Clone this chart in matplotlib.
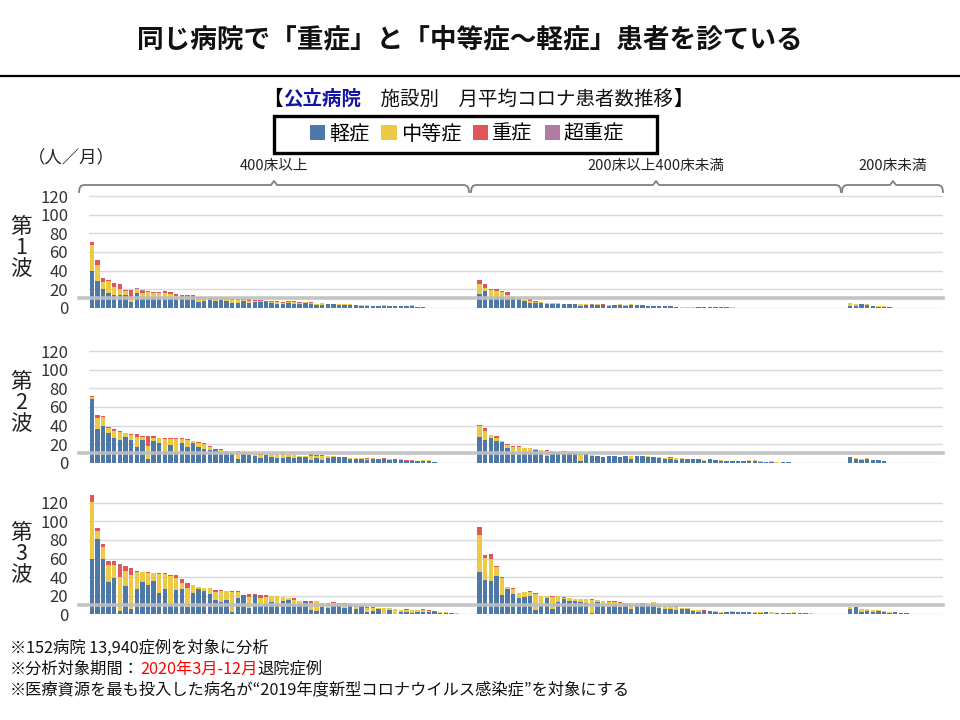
import numpy as np
import matplotlib
matplotlib.use("Agg")
import matplotlib.pyplot as plt
from matplotlib.patches import Patch, Rectangle
from matplotlib.lines import Line2D

plt.rcParams['font.family'] = ['Noto Sans CJK JP', 'DejaVu Sans']

# ---------------- data ----------------
SERIES = ['軽症', '中等症', '重症', '超重症']
COLORS = ['#4E79A7', '#EDC948', '#E15759', '#B07AA1']
GROUPS = ['400床以上', '200床以上400床未満', '200床未満']
WAVES = ['第\n1\n波', '第\n2\n波', '第\n3\n波']
YTICKS = [0, 20, 40, 60, 80, 100, 120]
REF_LEVEL = 10

# wave 1
w1_g1_mild = [40,29,20,16,14,14,14,6,16,9, 11,12,12,9,10,9,10,9,11,6, 7,8,7,8,7,5,5,7,5,6,
              6,6,5,4,4,5,4,4,5,4, 3,3,4,4,3,3,3,3,2,2, 2,2,2,2,2,2,2,2,1,1]
w1_g1_mod = [27,17,8,13,8,6,4,5,4,7, 6,4,4,7,5,4,2,3,1,3, 2,1,2,1,2,3,3,1,2,1,
             1,0,1,2,1,1,2,1,1,1, 1,2,0,0,0.5,0.5,0.5,0,1,1, 0,0,0.5,0,0,0,0,0.5,0,0]
w1_g1_sev = [4,5,4,1,5,5,1,8,0,2, 1,1,1,2,2,2,2,2,2,3, 2,1,1,1,1,1,1,1,2,1,
             1,1,1,1,1,1,1,1,0,1, 0,0,0,0,0,0,0,0,0,0, 0,0,0,0,0,0,0,0,0,0]
w1_g1_crit = [0,0,0,0,0,0,0,0,1,1, 0,0,0,0,0,0,0,0,0,0, 0,0,0,0,0,0,0,0,0,0,
              0,0,0,0,0,0,0,0,0,0, 0,0,0,0,0,0,0,0,0,0, 0,0,0,0,0,0,0,0,0,0]
w1_g2_mild = [15,18,12,11,12,9,11,9,7,5, 5,5,4,4,4,4,4,4,2,3, 3,3,3,2,3,3,2,3,3,3,
              2,2,2,2,2,1,0,0,0,1, 1,1,1,1,1,0]
w1_g2_mod = [11,3,7,7,5,5,1,1,1,2, 1,1,1,1,1,0,0.5,0,2,1, 0,1,0,1,0,0.5,1,0.5,0,0,
             0,0,0,0,0,0,1,1,1,0, 0,0,0,0,0,1]
w1_g2_sev = [4,4,1,2,1,3,0,0,0,2, 1,0,0,0,0,0,0,0,0,0, 0,0,1,0,0,0,0,0,0,0,
             0,0,0,0,0,0,0,0,0,0, 0,0,0,0,0,0]
w1_g2_crit = [0,0,0,0,0,0,0,0,0,0, 0,0,0,0,0,0,0,0,0,0, 0.7,0,0,0,0,0,0,0,0,0,
              0,0,0,0,0,0,0,0,0,0, 0,0,0,0,0,0]
w1_g3_mild = [2,2,4,3,2,1,1,1]
w1_g3_mod = [3,2,0,1,0,1,1,0]
w1_g3_sev = [0,0,0,0,0,0,0,0]
w1_g3_crit = [0,0,0,0,0,0,0,0]

# wave 2
w2_g1_mild = [68,36,40,32,27,24,28,24,17,24, 4,23,21,12,19,11,21,17,21,17, 15,14,15,12,11,10,4,9,8,7,
              5,8,6,5,5,6,5,6,6,3, 5,3,5,6,6,6,4,4,4,3, 4,4,4,3,4,3,2,2,1.5,2, 1.5,1]
w2_g1_mod = [3,12,9,5,7,9,4,6,11,4, 14,4,6,14,7,15,5,7,2,4, 5,3,0,2,2,2,8,2,4,2,
             3,1,4,4,4,3,3,1,1,4, 2,4,2,1,0,0,1,1,1,1, 1,0,0,1,0.5,1,0,0,0,1, 1,0]
w2_g1_sev = [1,3,1,1,2,1,0,1,3,1, 11,2,0,1,1,1,1,2,0,1, 1,1,0,1,0,0,1,0,0,0,
             1,0,0,0,1,0,0,0,0,2, 1,1,0,0,0,0,0,0,0,1, 0,0,1,0,0,0,1,0,0,0, 0,0]
w2_g1_crit = [0,0,0,0,0,0,0,0,0,0, 0,0,0,0,0,0,0,0,0,0, 0,0,0,0,0,0,0,0,0,0,
              0,0,0,0,0,0,0,0,0,0, 0,0,0,0,0,0,0,0,0,0, 0,0,0,0,0,0,0,0.8,0,0, 0,0]
w2_g2_mild = [28,24,27,23,22,16,12,8,12,12, 14,11,7,12,11,9,10,10,2,9, 7,7,6,7,7,6,7,4,7,7,
              6,6,5,4,4,3,4,4,4,4, 2,4,3,2,2,2,2,2,2,2, 1,1,1,0,1,1]
w2_g2_mod = [11,10,3,4,1,3,5,9,4,4, 1,3,6,1,1,3,1,0,7,0, 1,0,0,0,0,0,0,3,0,0,
             1,0,1,1,1,2,1,0.5,0.5,0, 1,0.5,0,0.5,0,0,0,0,1,0.5, 1,0,1,1,0,0]
w2_g2_sev = [1,3,0,2,0,1,1,1,0,0, 0,0,1,0,0,1,0,0,0,0, 0,0,0,0,0,0,0,0,0,0,
             0,0,0,0,1,0,0,0,0,0, 0,0,0,0,0,0,0,0,0,0, 0,0,0,0,0,0]
w2_g2_crit = [0,0,0,0,0,0,0,0,0,0, 0,0,0,0,0,0,0,0,0,0, 0,0,0,0,0,0,0,0,0,0,
              0,0,0,0,0,0,0,0,0,0, 0,0,0,0,0,0,0,0,0,0, 0,0,0,0,0,0]
w2_g3_mild = [6,4,3,4,3,3,2]
w2_g3_mod = [0,1,1,1,0,0,0]
w2_g3_sev = [0,0,0,0,0,0,0]
w2_g3_crit = [0,0,0,0,0,0,0]

# wave 3
w3_g1_mild = [60,81,60,35,39,4,30,6,27,35, 31,36,23,27,11,26,27,8,23,27, 25,22,15,13,15,3,18,21,7,21,
              9,11,13,11,14,15,11,11,14,5, 4,8,7,10,10,7,11,6,9,3, 4,6,0,5,0,3,2,1,3,3, 2,2,1,1,1,0]
w3_g1_mod = [61,9,12,18,14,36,17,36,18,10, 13,8,20,16,30,13,7,20,8,2, 3,6,9,12,10,21,6,0,12,0,
             9,8,7,9,5,2,4,3,0,7, 10,4,4,2,1,4,0,3,0,4, 3,1,7,2,6,2,3,4,2,2, 2,1,1,1,0,1.5]
w3_g1_sev = [7,3,4,4,4,13,5,8,2,1, 1,0,1,1,1,3,4,6,0,0, 0,0,2,1,0,1,1,0,3,1,
             3,2,0,0,0,1,2,0,0,2, 0,0,1,1,1,1,0,1,0,1, 1,0,0,0,0,0,0.5,0,0,0.5, 0.5,0.5,0.5,0,0,0]
w3_g1_crit = [0,0,0,0,0,1,0,0,0,0, 0,0,0,0,0,0,0,0,0,0, 0,0,0,0,0,0,0,0,0,0,
              0,0,0,0,0,0,0,0,0,0, 0,0,0,0,0,0,0,0,0,0, 0,0,0,0,0,0,0,0,0,0, 0,0,0,0,0,0]
w3_g2_mild = [46,37,36,41,21,27,22,17,19,20, 5,9,18,6,13,16,14,14,13,12, 1,13,9,8,11,8,11,6,11,12,
              9,11,7,6,6,5,6,6,4,3, 4,4,3,1,3,3,2,2,2,1, 1,2,0,1,1,1,1,1,1,0]
w3_g2_mod = [39,24,23,10,18,2,5,6,5,4, 17,11,2,13,7,2,4,2,3,4, 14,2,5,5,2,4,1,6,1,0,
             2,2,2,3,3,3,1,1,1,2, 0,0,1,2,0,1,1,1,0,1, 1,0,2,0,0,0,1,0,0,1]
w3_g2_sev = [9,3,6,1,1,0,1,0,0,1, 1,0,0,1,0,1,0,0,0,0, 1,0,0,1,1,1,0,0,0,0,
             0,0,1,0,0,1,0,0,0,0, 1,0,0,0,0,0,0,0,0,0, 0,0,0,0,0,0,0,0,0,0]
w3_g2_crit = [0,0,0,0,0,0,0,0,0,0, 0,0,0,0,0,0,0,0,0,0, 0,0,0,0,0,0,0,0,0,0,
              0,0,0,0,0,0,0,0,0,0, 0,0,0,0,0,0,0,0,0,0, 0,0,0,0,0,0,0,0,0,0]
w3_g3_mild = [6,8,3,4,3,4,2,1,2,1,1]
w3_g3_mod = [2,0,3,2,2,1,2,1,0,0,0]
w3_g3_sev = [0,0,0,0,0,0,0,0,0,0,0]
w3_g3_crit = [0,0,0,0,0,0,0,0,0,0,0]

WAVE_DATA = [
    [[w1_g1_mild, w1_g1_mod, w1_g1_sev, w1_g1_crit],
     [w1_g2_mild, w1_g2_mod, w1_g2_sev, w1_g2_crit],
     [w1_g3_mild, w1_g3_mod, w1_g3_sev, w1_g3_crit]],
    [[w2_g1_mild, w2_g1_mod, w2_g1_sev, w2_g1_crit],
     [w2_g2_mild, w2_g2_mod, w2_g2_sev, w2_g2_crit],
     [w2_g3_mild, w2_g3_mod, w2_g3_sev, w2_g3_crit]],
    [[w3_g1_mild, w3_g1_mod, w3_g1_sev, w3_g1_crit],
     [w3_g2_mild, w3_g2_mod, w3_g2_sev, w3_g2_crit],
     [w3_g3_mild, w3_g3_mod, w3_g3_sev, w3_g3_crit]],
]

# ---------------- layout ----------------
W, H = 960, 720
GROUP_SLOTS = [69, 66, 17]
N_SLOTS = sum(GROUP_SLOTS)
AX_LEFT, AX_RIGHT = 89, 943
BASELINES = [307.7, 462.7, 614.3]
PX_PER_UNIT = 0.93
YMAX = 130

def fx(px):
    return px / W

def fy(py):
    return 1 - py / H

fig = plt.figure(figsize=(W / 100, H / 100), dpi=100)
fig.patch.set_facecolor('white')

def assemble(groups, k):
    out = np.zeros(N_SLOTS)
    start = 0
    for g, n in zip(groups, GROUP_SLOTS):
        vals = np.asarray(g[k], dtype=float)
        out[start:start + len(vals)] = vals
        start += n
    return out

x = np.arange(N_SLOTS)
for wi, (groups, base) in enumerate(zip(WAVE_DATA, BASELINES)):
    h = YMAX * PX_PER_UNIT
    ax = fig.add_axes([fx(AX_LEFT), fy(base), (AX_RIGHT - AX_LEFT) / W, h / H])
    bottom = np.zeros(N_SLOTS)
    for k in range(4):
        vals = assemble(groups, k)
        ax.bar(x, vals, width=0.78, bottom=bottom, color=COLORS[k], linewidth=0, zorder=2)
        bottom += vals
    ax.set_xlim(-0.5, N_SLOTS - 0.5)
    ax.set_ylim(0, YMAX)
    ax.set_yticks(YTICKS)
    ax.set_xticks([])
    ax.yaxis.grid(True, color='#D9D9D9', linewidth=1.0, zorder=0)
    ax.set_axisbelow(True)
    for s in ax.spines.values():
        s.set_visible(False)
    ax.tick_params(axis='y', length=0, pad=15, labelsize=12, labelcolor='#333333')
    ax.axhline(REF_LEVEL, xmin=-0.012, xmax=1, color='#BFBFBF', linewidth=2.6,
               alpha=0.92, zorder=5, clip_on=False)
    fig.text(fx(21), fy(base - 60), WAVES[wi], ha='center', va='center',
             fontsize=15.5, linespacing=0.95, color='#222222')

# ---------------- texts ----------------
fig.text(fx(470), fy(40), '同じ病院で「重症」と「中等症～軽症」患者を診ている',
         ha='center', va='center', fontsize=19.2, fontweight='bold', color='#111111')
fig.add_artist(Line2D([0, 1], [fy(76), fy(76)], color='black', linewidth=1.6,
                      transform=fig.transFigure))

renderer = fig.canvas.get_renderer()

def rich_line(x_px, y_px, parts, fontsize, align='left'):
    texts = []
    widths = []
    for s, props in parts:
        t = fig.text(0, fy(y_px), s, ha='left', va='center', fontsize=fontsize, **props)
        texts.append(t)
        widths.append(t.get_window_extent(renderer=renderer).width)
    total = sum(widths)
    cur = x_px - total / 2 if align == 'center' else x_px
    for t, w in zip(texts, widths):
        t.set_x(fx(cur))
        cur += w

rich_line(478, 99, [('【', {'color': 'black', 'fontweight': 'bold'}),
                    ('公立病院', {'color': '#1414A0', 'fontweight': 'bold'}),
                    ('　施設別　月平均コロナ患者数推移', {'color': '#111111'}),
                    ('】', {'color': 'black', 'fontweight': 'bold'})],
          fontsize=14, align='center')

# legend
handles = [Patch(facecolor=c, edgecolor='none') for c in COLORS]
fig.legend(handles, SERIES, ncol=4, loc='center', bbox_to_anchor=(fx(467), fy(134)),
           frameon=False, fontsize=14.5, handlelength=0.75, handleheight=0.75,
           handletextpad=0.2, columnspacing=0.6)
fig.add_artist(Rectangle((fx(274), fy(153)), (657 - 274) / W, (153 - 116) / H,
                         fill=False, edgecolor='black', linewidth=2.4,
                         transform=fig.transFigure))

fig.text(fx(28), fy(158), '（人／月）', ha='left', va='center', fontsize=12.5, color='#222222')

# group labels and braces
GROUP_SPANS = [(79, 469, 274), (471, 841, 656), (842, 943, 893)]
for label, (x0, x1, xc) in zip(GROUPS, GROUP_SPANS):
    fig.text(fx(xc), fy(166), label, ha='center', va='center', fontsize=10.5, color='#222222')
    y = 185
    bx = [x0, x0 + 0.6, x0 + 2, x0 + 4.5, xc - 3, xc, xc + 3, x1 - 4.5, x1 - 2, x1 - 0.6, x1]
    by = [y + 7, y + 3, y + 1, y, y, y - 4, y, y, y + 1, y + 3, y + 7]
    fig.add_artist(Line2D([fx(v) for v in bx], [fy(v) for v in by], color='#7F7F7F',
                          linewidth=1.3, transform=fig.transFigure))

# footer
FOOT_SIZE = 11.7
rich_line(10, 648, [('※152病院 13,940症例を対象に分析', {'color': '#111111'})], fontsize=FOOT_SIZE)
rich_line(10, 669, [('※分析対象期間：', {'color': '#111111'}),
                    ('2020年3月-12月', {'color': '#FF0000'}),
                    ('退院症例', {'color': '#111111'})], fontsize=FOOT_SIZE)
rich_line(10, 690, [('※医療資源を最も投入した病名が“2019年度新型コロナウイルス感染症”を対象にする',
                     {'color': '#111111'})], fontsize=FOOT_SIZE)

fig.savefig('out.png', dpi=100, facecolor='white')
